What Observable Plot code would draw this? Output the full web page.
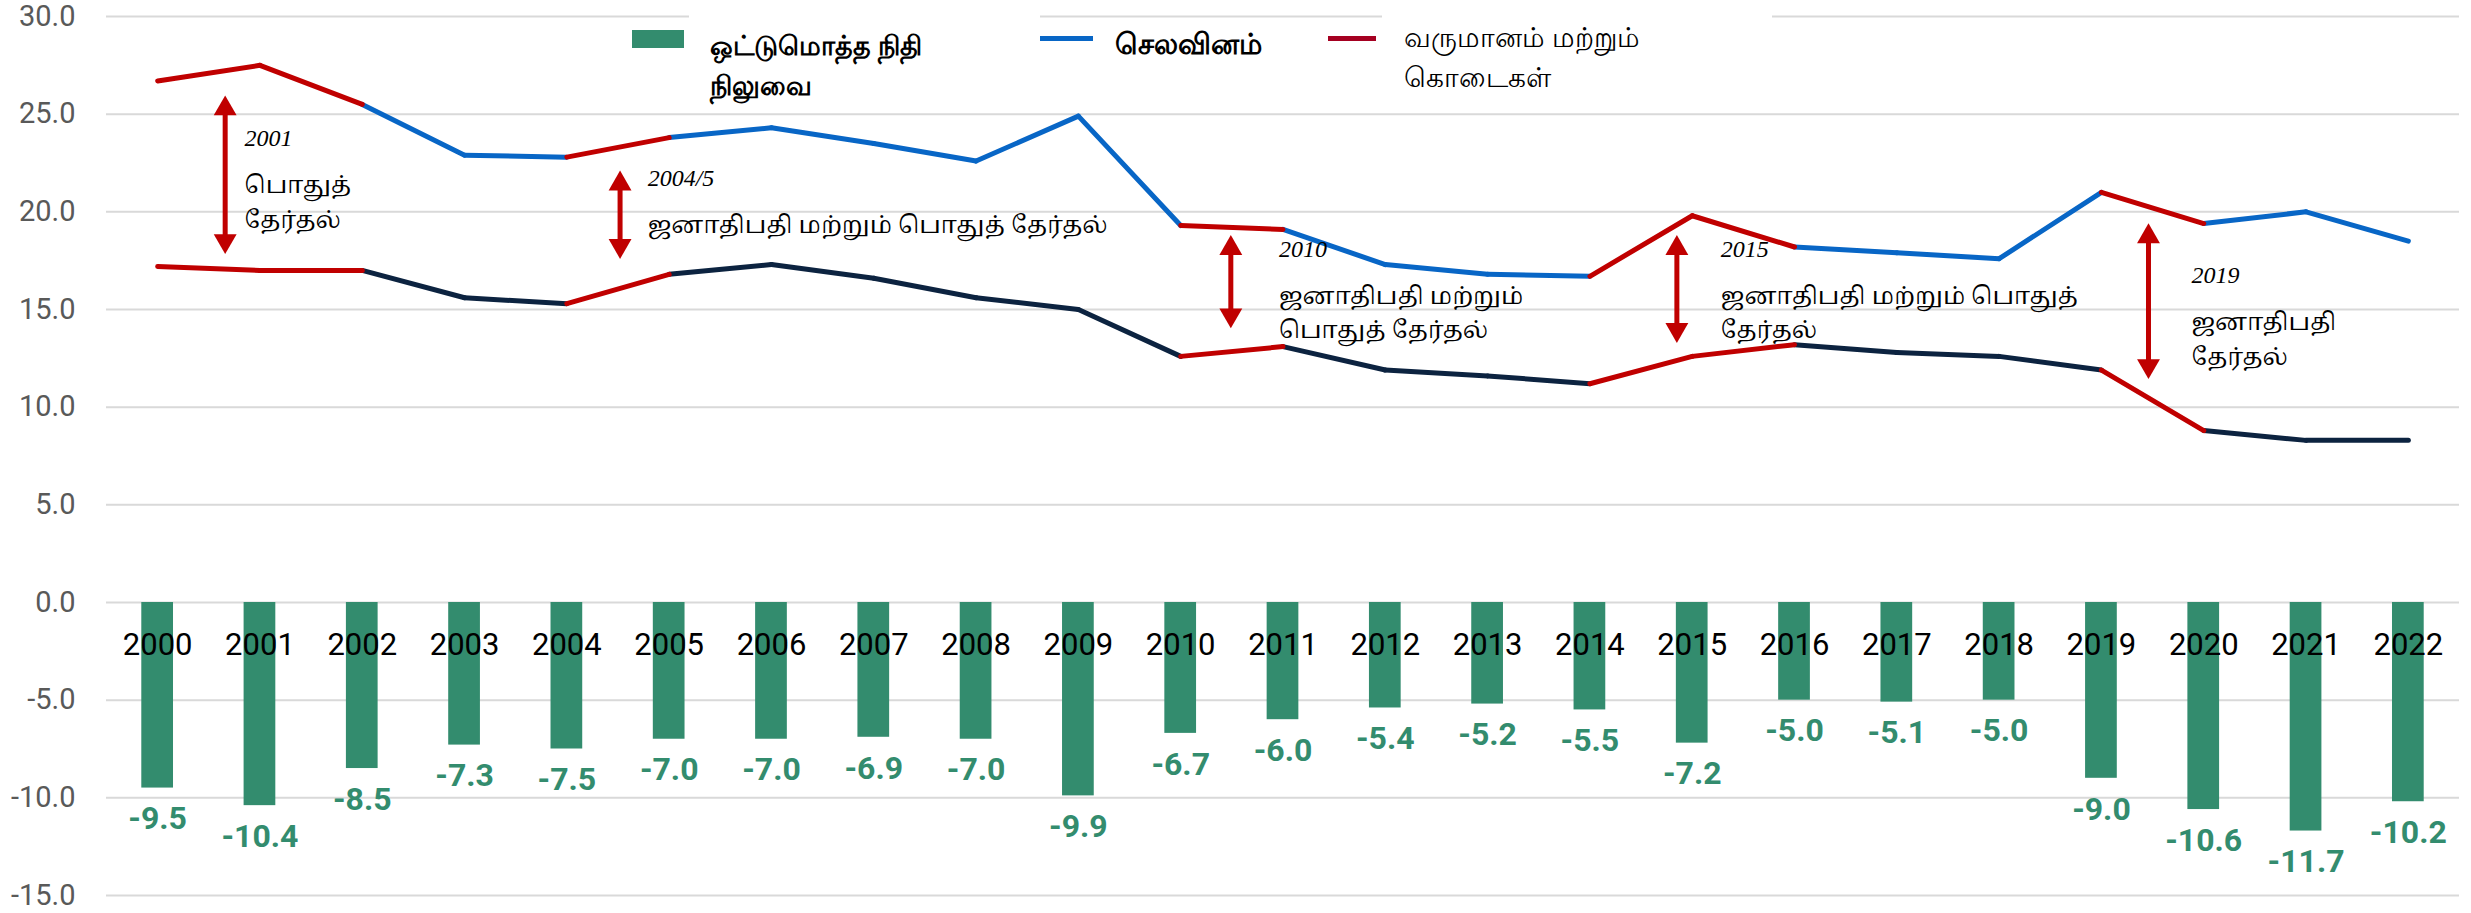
<!DOCTYPE html>
<html>
<head>
<meta charset="utf-8">
<script src="https://cdn.jsdelivr.net/npm/d3@7"></script>
<script src="https://cdn.jsdelivr.net/npm/@observablehq/plot@0.6"></script>
<style>
  html, body { margin: 0; padding: 0; background: #fff; }
  #wrap { position: relative; width: 2471px; height: 913px; overflow: hidden; font-family: Roboto, "Noto Sans", sans-serif; }
  .lg { position: absolute; background: #fff; color: #000; font-size: 27px; line-height: 40px; }
  .sw { position: absolute; }
</style>
</head>
<body>
<div id="wrap">
  <div id="chart"></div>
  <div class="lg" style="left:689px; top:0; width:351px; height:100px;"></div>
  <div class="sw" style="left:632px; top:30px; width:52px; height:18px; background:#338C6E;"></div>
  <div class="lg" style="left:710px; top:26px; font-weight:bold;">ஒட்டுமொத்த நிதி<br>நிலுவை</div>
  <div class="sw" style="left:1040px; top:36px; width:53px; height:5px; background:#0866C6;"></div>
  <div class="lg" style="left:1115px; top:24px; font-weight:bold; font-size:29px; background:transparent;">செலவினம்</div>
  <div class="lg" style="left:1382px; top:0; width:390px; height:100px;"></div>
  <div class="sw" style="left:1328px; top:36px; width:48px; height:5px; background:#A50021;"></div>
  <div class="lg" style="left:1404px; top:18px; font-size:28px;">வருமானம் மற்றும்<br>கொடைகள்</div>
</div>
<script>
// ---- data ----
const years = [2000, 2001, 2002, 2003, 2004, 2005, 2006, 2007, 2008, 2009, 2010, 2011,
               2012, 2013, 2014, 2015, 2016, 2017, 2018, 2019, 2020, 2021, 2022];
const expenditure = [26.7, 27.5, 25.5, 22.9, 22.8, 23.8, 24.3, 23.5, 22.6, 24.9, 19.3, 19.1,
                     17.3, 16.8, 16.7, 19.8, 18.2, 17.9, 17.6, 21.0, 19.4, 20.0, 18.5];
const revenue = [17.2, 17.0, 17.0, 15.6, 15.3, 16.8, 17.3, 16.6, 15.6, 15.0, 12.6, 13.1,
                 11.9, 11.6, 11.2, 12.6, 13.2, 12.8, 12.6, 11.9, 8.8, 8.3, 8.3];
const balance = [-9.5, -10.4, -8.5, -7.3, -7.5, -7.0, -7.0, -6.9, -7.0, -9.9, -6.7, -6.0,
                 -5.4, -5.2, -5.5, -7.2, -5.0, -5.1, -5.0, -9.0, -10.6, -11.7, -10.2];
// start years of segments drawn in red (election periods)
const electionSegmentStarts = [2000, 2001, 2004, 2010, 2014, 2015, 2019];
const yTicks = [-15, -10, -5, 0, 5, 10, 15, 20, 25, 30];

// election annotations: arrow position (fractional year), arrow ends, text anchor
const annX = [2000.66, 2004.52, 2010.49, 2014.85, 2019.46];
const annTop = [25.95, 22.1, 18.8, 18.8, 19.4];
const annBottom = [17.85, 17.6, 14.05, 13.3, 11.45];
const annTextX = [2000.85, 2004.79, 2010.96, 2015.28, 2019.88];
const annTextY = [23.75, 21.7, 18.1, 18.1, 16.75];
const annYear = ["2001", "2004/5", "2010", "2015", "2019"];
const annLabel = ["பொதுத்\nதேர்தல்", "ஜனாதிபதி மற்றும் பொதுத் தேர்தல்", "ஜனாதிபதி மற்றும்\nபொதுத் தேர்தல்",
                  "ஜனாதிபதி மற்றும் பொதுத்\nதேர்தல்", "ஜனாதிபதி\nதேர்தல்"];

// ---- styles ----
const RED = "#C00000", BLUE = "#0866C6", NAVY = "#0C2340", GREEN = "#338C6E";
const BAR_HALF = 0.155;

// ---- build tables ----
const bars = years.map((y, i) => ({year: y, value: balance[i]}));
const segs = [];
for (let i = 0; i < years.length - 1; i++) {
  const red = electionSegmentStarts.includes(years[i]);
  segs.push({series: "exp", red, x1: years[i], x2: years[i + 1], y1: expenditure[i], y2: expenditure[i + 1]});
  segs.push({series: "rev", red, x1: years[i], x2: years[i + 1], y1: revenue[i], y2: revenue[i + 1]});
}
const anns = annX.map((x, i) => ({x, top: annTop[i], bottom: annBottom[i], tx: annTextX[i], ty: annTextY[i], year: annYear[i], label: annLabel[i]}));

const linkOpts = {x1: "x1", x2: "x2", y1: "y1", y2: "y2", strokeWidth: 5, strokeLinecap: "round"};

const chart = Plot.plot({
  width: 2471,
  height: 913,
  marginLeft: 106,
  marginRight: 12,
  marginTop: 16,
  marginBottom: 18,
  style: {fontFamily: "Roboto, 'Noto Sans', sans-serif", background: "#fff", overflow: "visible"},
  x: {domain: [1999.5, 2022.5], axis: null},
  y: {domain: [-15, 30], axis: null},
  marks: [
    Plot.gridY(yTicks, {stroke: "#D9D9D9", strokeOpacity: 1, strokeWidth: 2}),
    Plot.axisY(yTicks, {tickSize: 0, tickPadding: 31, fontSize: 29, color: "#595959",
                        tickFormat: d => d.toFixed(1), label: null}),
    Plot.rectY(bars, {x1: d => d.year - BAR_HALF, x2: d => d.year + BAR_HALF, y1: 0, y2: "value", fill: GREEN}),
    Plot.text(years, {x: d => d, y: 0, text: d => String(d), dy: 43, fontSize: 31, fill: "#000"}),
    Plot.text(bars, {x: "year", y: "value", text: d => d.value.toFixed(1), dy: 31, fontSize: 32,
                     fontWeight: "bold", fill: GREEN}),
    Plot.link(segs.filter(d => !d.red && d.series === "exp"), {...linkOpts, stroke: BLUE}),
    Plot.link(segs.filter(d => !d.red && d.series === "rev"), {...linkOpts, stroke: NAVY}),
    Plot.link(segs.filter(d => d.red), {...linkOpts, stroke: RED}),
    Plot.ruleX(anns, {x: "x", y1: "top", y2: "bottom", stroke: RED, strokeWidth: 5, insetTop: 12, insetBottom: 12}),
    Plot.dot(anns, {x: "x", y: "top", symbol: "triangle", r: 8.5, fill: RED, stroke: "none", dy: 13}),
    Plot.dot(anns, {x: "x", y: "bottom", symbol: "triangle", rotate: 180, r: 8.5, fill: RED, stroke: "none", dy: -13}),
    Plot.text(anns, {x: "tx", y: "ty", text: "year", textAnchor: "start", fontSize: 24,
                     fontFamily: "'Liberation Serif', serif", fontStyle: "italic", fill: "#000"}),
    Plot.text(anns, {x: "tx", y: "ty", text: "label", textAnchor: "start", lineAnchor: "top", dy: 30,
                     fontSize: 24, lineHeight: 1.45, fill: "#000",
                     fontFamily: "Latha, 'Noto Serif Tamil', 'Noto Sans Tamil', serif"})
  ]
});
document.getElementById("chart").appendChild(chart);
</script>
</body>
</html>
